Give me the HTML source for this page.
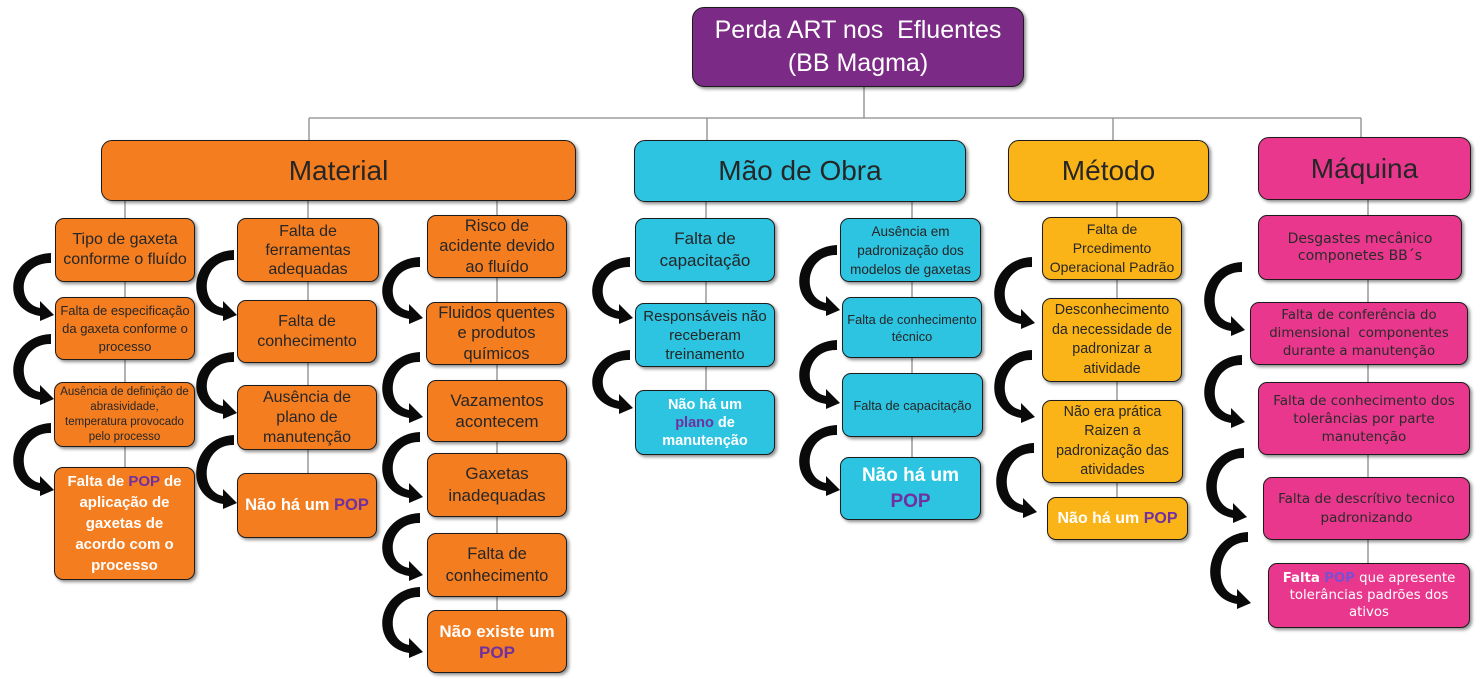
<!DOCTYPE html>
<html>
<head>
<meta charset="utf-8">
<style>
html,body{margin:0;padding:0;background:#fff;}
#root{position:relative;width:1480px;height:679px;overflow:hidden;background:#fff;font-family:"Liberation Sans",sans-serif;}
.b{position:absolute;display:flex;align-items:center;justify-content:center;text-align:center;box-sizing:border-box;border:1.5px solid #1c1c1c;border-radius:9px;box-shadow:2px 2px 3px rgba(0,0,0,.45);color:#262626;z-index:1;}
.b > div{width:100%;}
.o{background:#f47d20;}
.c{background:#2cc4e1;}
.g{background:#fbb417;}
.p{background:#e8378c;}
.w{color:#fff;font-weight:bold;}
.v{color:#7030a0;}
.q{font-family:"DejaVu Sans",sans-serif;color:#2b2b2b;}
svg{position:absolute;left:0;top:0;}
</style>
</head>
<body>
<div id="root">
<svg width="1480" height="679" style="z-index:0">
 <g stroke="#8a8a8a" stroke-width="1.3" fill="none">
  <line x1="864" y1="87" x2="864" y2="118"/>
  <line x1="309" y1="118" x2="1361" y2="118"/>
  <line x1="309" y1="118" x2="309" y2="140"/>
  <line x1="707" y1="118" x2="707" y2="140"/>
  <line x1="1113" y1="118" x2="1113" y2="140"/>
  <line x1="1361" y1="118" x2="1361" y2="137"/>
  <line x1="125" y1="200" x2="125" y2="467"/>
  <line x1="308" y1="200" x2="308" y2="473"/>
  <line x1="497" y1="200" x2="497" y2="610"/>
  <line x1="706" y1="202" x2="706" y2="390"/>
  <line x1="912" y1="202" x2="912" y2="457"/>
  <line x1="1117" y1="202" x2="1117" y2="497"/>
  <line x1="1368" y1="200" x2="1368" y2="563"/>
 </g>
</svg>

<!-- top -->
<div class="b" style="left:692px;top:7px;width:332px;height:80px;background:#7b2b85;border-radius:12px;color:#fff;font-size:25px;line-height:33px;"><div>Perda ART nos&nbsp; Efluentes<br>(BB Magma)</div></div>

<!-- categories -->
<div class="b o" style="left:101px;top:140px;width:475px;height:61px;border-radius:11px;font-size:28px;"><div>Material</div></div>
<div class="b c" style="left:634px;top:140px;width:332px;height:62px;border-radius:11px;font-size:28px;"><div>Mão de Obra</div></div>
<div class="b g" style="left:1008px;top:140px;width:201px;height:62px;border-radius:11px;font-size:28px;"><div>Método</div></div>
<div class="b p" style="left:1258px;top:137px;width:213px;height:63px;border-radius:11px;font-size:28px;"><div>Máquina</div></div>

<!-- Material col 1 -->
<div class="b o" style="left:55px;top:218px;width:140px;height:64px;font-size:16px;line-height:20px;"><div>Tipo de gaxeta<br>conforme o fluído</div></div>
<div class="b o" style="left:55px;top:297px;width:140px;height:63px;font-size:13px;line-height:18px;"><div>Falta de especificação<br>da gaxeta conforme o<br>processo</div></div>
<div class="b o" style="left:54px;top:382px;width:141px;height:65px;font-size:11.5px;line-height:15px;"><div>Ausência de definição de<br>abrasividade,<br>temperatura provocado<br>pelo processo</div></div>
<div class="b o w" style="left:54px;top:467px;width:141px;height:113px;font-size:15px;line-height:21px;"><div>Falta de <span class="v">POP</span> de<br>aplicação de<br>gaxetas de<br>acordo com o<br>processo</div></div>

<!-- Material col 2 -->
<div class="b o" style="left:237px;top:218px;width:142px;height:64px;font-size:16px;line-height:19px;"><div>Falta de<br>ferramentas<br>adequadas</div></div>
<div class="b o" style="left:237px;top:300px;width:140px;height:63px;font-size:16px;line-height:20px;"><div>Falta de<br>conhecimento</div></div>
<div class="b o" style="left:237px;top:385px;width:140px;height:65px;font-size:16px;line-height:20px;"><div>Ausência de<br>plano de<br>manutenção</div></div>
<div class="b o w" style="left:237px;top:473px;width:140px;height:65px;font-size:16.5px;"><div>Não há um <span class="v">POP</span></div></div>

<!-- Material col 3 -->
<div class="b o" style="left:427px;top:215px;width:140px;height:63px;font-size:16.5px;line-height:20.5px;"><div>Risco de<br>acidente devido<br>ao fluído</div></div>
<div class="b o" style="left:426px;top:302px;width:141px;height:63px;font-size:16.5px;line-height:20.5px;"><div>Fluidos quentes<br>e produtos<br>químicos</div></div>
<div class="b o" style="left:427px;top:380px;width:140px;height:62px;font-size:17px;line-height:21px;"><div>Vazamentos<br>acontecem</div></div>
<div class="b o" style="left:427px;top:453px;width:140px;height:64px;font-size:17px;line-height:22px;"><div>Gaxetas<br>inadequadas</div></div>
<div class="b o" style="left:427px;top:533px;width:140px;height:64px;font-size:16.5px;line-height:22px;"><div>Falta de<br>conhecimento</div></div>
<div class="b o w" style="left:427px;top:610px;width:140px;height:63px;font-size:17px;line-height:21px;"><div>Não existe um<br><span class="v">POP</span></div></div>

<!-- Mão de Obra left -->
<div class="b c" style="left:635px;top:218px;width:140px;height:64px;font-size:17px;line-height:22px;"><div>Falta de<br>capacitação</div></div>
<div class="b c" style="left:635px;top:303px;width:140px;height:64px;font-size:15px;line-height:19px;"><div>Responsáveis não<br>receberam<br>treinamento</div></div>
<div class="b c w" style="left:635px;top:390px;width:140px;height:65px;font-size:14.5px;line-height:18px;"><div>Não há um<br><span class="v">plano</span> de<br>manutenção</div></div>

<!-- Mão de Obra right -->
<div class="b c" style="left:840px;top:218px;width:141px;height:64px;font-size:13.5px;line-height:19px;"><div>Ausência em<br>padronização dos<br>modelos de gaxetas</div></div>
<div class="b c" style="left:842px;top:297px;width:140px;height:61px;font-size:12.8px;line-height:17px;"><div>Falta de conhecimento<br>técnico</div></div>
<div class="b c" style="left:842px;top:373px;width:141px;height:64px;font-size:12.8px;"><div>Falta de capacitação</div></div>
<div class="b c w" style="left:840px;top:457px;width:141px;height:63px;font-size:19px;line-height:26px;"><div>Não há um<br><span class="v">POP</span></div></div>

<!-- Método -->
<div class="b g" style="left:1042px;top:217px;width:140px;height:63px;font-size:14px;line-height:19px;"><div>Falta de<br>Prcedimento<br>Operacional Padrão</div></div>
<div class="b g" style="left:1042px;top:298px;width:140px;height:84px;font-size:14.3px;line-height:19.5px;"><div>Desconhecimento<br>da necessidade de<br>padronizar a<br>atividade</div></div>
<div class="b g" style="left:1042px;top:400px;width:141px;height:83px;font-size:14.3px;line-height:19.5px;"><div>Não era prática<br>Raizen a<br>padronização das<br>atividades</div></div>
<div class="b g w" style="left:1047px;top:497px;width:141px;height:43px;font-size:16px;"><div>Não há um <span class="v">POP</span></div></div>

<!-- Máquina -->
<div class="b p q" style="left:1258px;top:215px;width:204px;height:65px;font-size:14px;line-height:17px;"><div>Desgastes mecânico<br>componetes BB´s</div></div>
<div class="b p q" style="left:1250px;top:302px;width:218px;height:63px;font-size:13.3px;line-height:18px;"><div>Falta de conferência do<br>dimensional&nbsp; componentes<br>durante a manutenção</div></div>
<div class="b p q" style="left:1258px;top:382px;width:212px;height:73px;font-size:13.5px;line-height:18px;"><div>Falta de conhecimento dos<br>tolerâncias por parte<br>manutenção</div></div>
<div class="b p q" style="left:1263px;top:477px;width:207px;height:63px;font-size:13.5px;line-height:19px;"><div>Falta de descrítivo tecnico<br>padronizando</div></div>
<div class="b p q" style="left:1268px;top:563px;width:202px;height:65px;font-size:13.3px;line-height:17px;color:#fff;"><div><b>Falta</b> <b style="color:#7b4fd0">POP</b> que apresente<br>tolerâncias padrões dos<br>ativos</div></div>

<svg width="1480" height="679" style="z-index:2">
 <g fill="#0a0a0a">
  <path transform="translate(49,258)" d="M2,-5 C-42,-3 -50,51 -9,58 L-9,63 L5,57 L-9,43 L-9,50 C-34,45 -30,4 2,5 Z"/>
  <path transform="translate(49,339)" d="M2,-5 C-42,-3 -50,54 -9,61 L-9,66 L5,60 L-9,46 L-9,53 C-34,48 -30,4 2,5 Z"/>
  <path transform="translate(49,428)" d="M2,-5 C-42,-3 -50,56 -9,63 L-9,68 L5,62 L-9,48 L-9,55 C-34,50 -30,4 2,5 Z"/>

  <path transform="translate(232,255)" d="M2,-5 C-42,-3 -50,54 -9,61 L-9,66 L5,60 L-9,46 L-9,53 C-34,48 -30,4 2,5 Z"/>
  <path transform="translate(232,357)" d="M2,-5 C-42,-3 -50,50 -9,57 L-9,62 L5,56 L-9,42 L-9,49 C-34,44 -30,4 2,5 Z"/>
  <path transform="translate(232,440)" d="M2,-5 C-42,-3 -50,57 -9,64 L-9,69 L5,63 L-9,49 L-9,56 C-34,51 -30,4 2,5 Z"/>

  <path transform="translate(418,262)" d="M2,-5 C-42,-3 -50,50 -9,57 L-9,62 L5,56 L-9,42 L-9,49 C-34,44 -30,4 2,5 Z"/>
  <path transform="translate(418,357)" d="M2,-5 C-42,-3 -50,54 -9,61 L-9,66 L5,60 L-9,46 L-9,53 C-34,48 -30,4 2,5 Z"/>
  <path transform="translate(418,437)" d="M2,-5 C-42,-3 -50,54 -9,61 L-9,66 L5,60 L-9,46 L-9,53 C-34,48 -30,4 2,5 Z"/>
  <path transform="translate(418,518)" d="M2,-5 C-42,-3 -50,51 -9,58 L-9,63 L5,57 L-9,43 L-9,50 C-34,45 -30,4 2,5 Z"/>
  <path transform="translate(418,592)" d="M2,-5 C-42,-3 -50,54 -9,61 L-9,66 L5,60 L-9,46 L-9,53 C-34,48 -30,4 2,5 Z"/>

  <path transform="translate(628,262)" d="M2,-5 C-42,-3 -50,50 -9,57 L-9,62 L5,56 L-9,42 L-9,49 C-34,44 -30,4 2,5 Z"/>
  <path transform="translate(628,355)" d="M2,-5 C-42,-3 -50,47 -9,54 L-9,59 L5,53 L-9,39 L-9,46 C-34,41 -30,4 2,5 Z"/>

  <path transform="translate(835,250)" d="M2,-5 C-42,-3 -50,54 -9,61 L-9,66 L5,60 L-9,46 L-9,53 C-34,48 -30,4 2,5 Z"/>
  <path transform="translate(835,345)" d="M2,-5 C-42,-3 -50,52 -9,59 L-9,64 L5,58 L-9,44 L-9,51 C-34,46 -30,4 2,5 Z"/>
  <path transform="translate(835,430)" d="M2,-5 C-42,-3 -50,54 -9,61 L-9,66 L5,60 L-9,46 L-9,53 C-34,48 -30,4 2,5 Z"/>

  <path transform="translate(1030,262)" d="M2,-5 C-42,-3 -50,55 -9,62 L-9,67 L5,61 L-9,47 L-9,54 C-34,49 -30,4 2,5 Z"/>
  <path transform="translate(1030,355)" d="M2,-5 C-42,-3 -50,56 -9,63 L-9,68 L5,62 L-9,48 L-9,55 C-34,50 -30,4 2,5 Z"/>
  <path transform="translate(1032,448)" d="M2,-5 C-42,-3 -50,58 -9,65 L-9,70 L5,64 L-9,50 L-9,57 C-34,52 -30,4 2,5 Z"/>

  <path transform="translate(1240,267)" d="M2,-5 C-42,-3 -50,57 -9,64 L-9,69 L5,63 L-9,49 L-9,56 C-34,51 -30,4 2,5 Z"/>
  <path transform="translate(1240,360)" d="M2,-5 C-42,-3 -50,56 -9,63 L-9,68 L5,62 L-9,48 L-9,55 C-34,50 -30,4 2,5 Z"/>
  <path transform="translate(1242,453)" d="M2,-5 C-42,-3 -50,58 -9,65 L-9,70 L5,64 L-9,50 L-9,57 C-34,52 -30,4 2,5 Z"/>
  <path transform="translate(1246,537)" d="M2,-5 C-42,-3 -50,60 -9,67 L-9,72 L5,66 L-9,52 L-9,59 C-34,54 -30,4 2,5 Z"/>
 </g>
</svg>
</div>
</body>
</html>
